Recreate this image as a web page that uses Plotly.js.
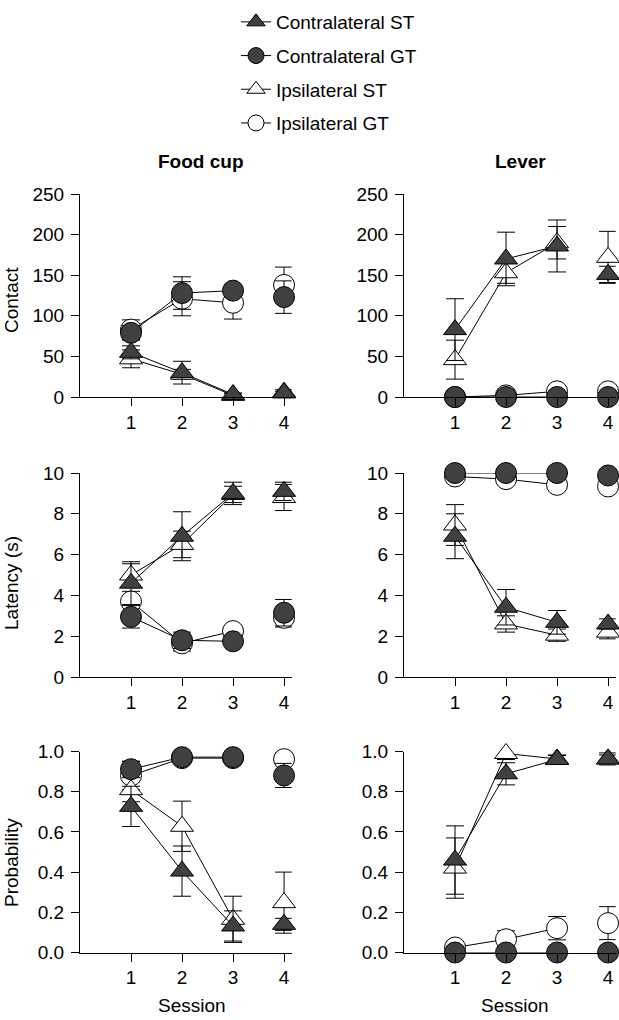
<!DOCTYPE html>
<html>
<head>
<meta charset="utf-8">
<script src="https://cdn.plot.ly/plotly-3.0.1.min.js"></script>
<style>html,body{margin:0;padding:0;background:#fff;}#chart{width:619px;height:1020px;}</style>
</head>
<body>
<div id="chart"></div>
<script>
// ---- Data ----
const sessions = [1, 2, 3, 4];
const seriesNames = ["Contralateral ST", "Contralateral GT", "Ipsilateral ST", "Ipsilateral GT"];
const columnTitles = ["Food cup", "Lever"];
const rowTitles = ["Contact", "Latency (s)", "Probability"];
const xTickLabels = ["1", "2", "3", "4"];
const contactTicks = [0, 50, 100, 150, 200, 250];
const latencyTicks = [0, 2, 4, 6, 8, 10];
const probabilityTicks = [0, 0.2, 0.4, 0.6, 0.8, 1.0];

// Food cup - Contact
const foodContactContraST = [55, 30, 3, 5];
const foodContactContraSTErr = [8, 14, 2, 2];
const foodContactContraGT = [79, 128, 131, 123];
const foodContactContraGTErr = [9, 20, 6, 20];
const foodContactIpsiST = [47, 28, 2, 6];
const foodContactIpsiSTErr = [11, 6, 2, 3];
const foodContactIpsiGT = [83, 121, 116, 138];
const foodContactIpsiGTErr = [12, 21, 20, 22];

// Lever - Contact
const leverContactContraST = [83, 170, 186, 151];
const leverContactContraSTErr = [38, 33, 32, 10];
const leverContactContraGT = [0, 0, 0, 0];
const leverContactContraGTErr = [0, 0, 0, 0];
const leverContactIpsiST = [46, 153, 190, 172];
const leverContactIpsiSTErr = [24, 13, 20, 32];
const leverContactIpsiGT = [0, 2, 7, 7];
const leverContactIpsiGTErr = [0, 1, 2, 2];

// Food cup - Latency
const foodLatencyContraST = [4.6, 6.9, 9.0, 9.1];
const foodLatencyContraSTErr = [1.05, 1.2, 0.55, 0.45];
const foodLatencyContraGT = [2.95, 1.8, 1.75, 3.15];
const foodLatencyContraGTErr = [0.55, 0.4, 0.2, 0.65];
const foodLatencyIpsiST = [5.0, 6.5, 8.95, 8.8];
const foodLatencyIpsiSTErr = [0.55, 0.65, 0.4, 0.64];
const foodLatencyIpsiGT = [3.7, 1.65, 2.25, 2.9];
const foodLatencyIpsiGTErr = [0.5, 0.38, 0.2, 0.45];

// Lever - Latency
const leverLatencyContraST = [6.9, 3.42, 2.68, 2.6];
const leverLatencyContraSTErr = [1.1, 0.87, 0.58, 0.25];
const leverLatencyContraGT = [10, 10, 10, 9.88];
const leverLatencyContraGTErr = [0, 0, 0, 0.05];
const leverLatencyIpsiST = [7.45, 2.6, 2.05, 2.2];
const leverLatencyIpsiSTErr = [1.0, 0.4, 0.3, 0.33];
const leverLatencyIpsiGT = [9.83, 9.7, 9.42, 9.34];
const leverLatencyIpsiGTErr = [0.1, 0.1, 0.15, 0.15];

// Food cup - Probability
const foodProbContraST = [0.727, 0.405, 0.132, 0.14];
const foodProbContraSTErr = [0.1, 0.125, 0.075, 0.03];
const foodProbContraGT = [0.912, 0.972, 0.972, 0.881];
const foodProbContraGTErr = [0.04, 0.01, 0.01, 0.06];
const foodProbIpsiST = [0.81, 0.628, 0.165, 0.248];
const foodProbIpsiSTErr = [0.06, 0.125, 0.115, 0.152];
const foodProbIpsiGT = [0.88, 0.967, 0.967, 0.962];
const foodProbIpsiGTErr = [0.07, 0.01, 0.01, 0.03];

// Lever - Probability
const leverProbContraST = [0.46, 0.889, 0.96, 0.963];
const leverProbContraSTErr = [0.17, 0.055, 0.02, 0.03];
const leverProbContraGT = [0, 0, 0, 0];
const leverProbContraGTErr = [0, 0, 0, 0];
const leverProbIpsiST = [0.42, 0.99, 0.963, 0.963];
const leverProbIpsiSTErr = [0.15, 0.03, 0.02, 0.02];
const leverProbIpsiGT = [0.025, 0.066, 0.121, 0.146];
const leverProbIpsiGTErr = [0.01, 0.042, 0.058, 0.082];

// ---- Styles ----
const FONT = "Arial, 'Liberation Sans', Helvetica, sans-serif";
const FS = 19;
const DARK = "#404040";
const W = 619, H = 1020;

const styles = {
  "Contralateral ST": {symbol: "triangle-up", fill: DARK, size: 20, rank: 1},
  "Contralateral GT": {symbol: "circle", fill: DARK, size: 21, rank: 2},
  "Ipsilateral ST": {symbol: "triangle-up", fill: "#ffffff", size: 20, rank: 3},
  "Ipsilateral GT": {symbol: "circle", fill: "#ffffff", size: 21, rank: 4}
};

const panels = [
  {ax: 1, data: {"Contralateral ST": [foodContactContraST, foodContactContraSTErr], "Contralateral GT": [foodContactContraGT, foodContactContraGTErr], "Ipsilateral ST": [foodContactIpsiST, foodContactIpsiSTErr], "Ipsilateral GT": [foodContactIpsiGT, foodContactIpsiGTErr]}},
  {ax: 2, data: {"Contralateral ST": [leverContactContraST, leverContactContraSTErr], "Contralateral GT": [leverContactContraGT, leverContactContraGTErr], "Ipsilateral ST": [leverContactIpsiST, leverContactIpsiSTErr], "Ipsilateral GT": [leverContactIpsiGT, leverContactIpsiGTErr]}},
  {ax: 3, data: {"Contralateral ST": [foodLatencyContraST, foodLatencyContraSTErr], "Contralateral GT": [foodLatencyContraGT, foodLatencyContraGTErr], "Ipsilateral ST": [foodLatencyIpsiST, foodLatencyIpsiSTErr], "Ipsilateral GT": [foodLatencyIpsiGT, foodLatencyIpsiGTErr]}},
  {ax: 4, data: {"Contralateral ST": [leverLatencyContraST, leverLatencyContraSTErr], "Contralateral GT": [leverLatencyContraGT, leverLatencyContraGTErr], "Ipsilateral ST": [leverLatencyIpsiST, leverLatencyIpsiSTErr], "Ipsilateral GT": [leverLatencyIpsiGT, leverLatencyIpsiGTErr]}},
  {ax: 5, data: {"Contralateral ST": [foodProbContraST, foodProbContraSTErr], "Contralateral GT": [foodProbContraGT, foodProbContraGTErr], "Ipsilateral ST": [foodProbIpsiST, foodProbIpsiSTErr], "Ipsilateral GT": [foodProbIpsiGT, foodProbIpsiGTErr]}},
  {ax: 6, data: {"Contralateral ST": [leverProbContraST, leverProbContraSTErr], "Contralateral GT": [leverProbContraGT, leverProbContraGTErr], "Ipsilateral ST": [leverProbIpsiST, leverProbIpsiSTErr], "Ipsilateral GT": [leverProbIpsiGT, leverProbIpsiGTErr]}}
];

// draw open (ipsilateral) first so filled markers sit on top
const drawOrder = ["Ipsilateral GT", "Ipsilateral ST", "Contralateral GT", "Contralateral ST"];

function gapped(arr) {
  // sessions 1-3 connected, session 4 stands alone
  return arr.slice(0, 3).concat([null], arr.slice(3));
}

const traces = [];
panels.forEach(function (p) {
  drawOrder.forEach(function (name) {
    const st = styles[name];
    const vals = p.data[name][0];
    const errs = p.data[name][1];
    traces.push({
      type: "scatter",
      mode: "lines+markers",
      name: name,
      legendgroup: name,
      legendrank: st.rank,
      showlegend: p.ax === 1,
      x: gapped(sessions),
      y: gapped(vals),
      xaxis: p.ax === 1 ? "x" : "x" + p.ax,
      yaxis: p.ax === 1 ? "y" : "y" + p.ax,
      line: {color: "#000000", width: 1},
      marker: {symbol: st.symbol, size: st.size, color: st.fill, line: {color: "#000000", width: 1}},
      error_y: {type: "data", array: gapped(errs), symmetric: true, visible: true, color: "#000000", thickness: 1, width: 9},
      cliponaxis: false,
      hoverinfo: "skip"
    });
  });
});

// ---- Layout ----
const xL = [80 / W, 291.7 / W];
const xR = [404 / W, 615.7 / W];
const rows = [
  [1 - 397 / H, 1 - 194 / H],
  [1 - 677 / H, 1 - 473 / H],
  [1 - 952.5 / H, 1 - 751.5 / H]
];
const yRanges = [[0, 250], [0, 10], [0, 1]];
const yTicks = [contactTicks, latencyTicks, probabilityTicks];
const yFormats = ["", "", ".1f"];

const layout = {
  width: W, height: H,
  margin: {l: 0, r: 0, t: 0, b: 0},
  paper_bgcolor: "#ffffff",
  plot_bgcolor: "rgba(0,0,0,0)",
  font: {family: FONT, size: FS, color: "#000000"},
  showlegend: true,
  legend: {
    x: 236 / W, xanchor: "left",
    y: 1 - 3 / H, yanchor: "top",
    bgcolor: "rgba(0,0,0,0)",
    font: {family: FONT, size: FS, color: "#000000"},
    tracegroupgap: 6,
    itemsizing: "trace",
    traceorder: "grouped"
  },
  annotations: [],
  hovermode: false
};

for (let i = 1; i <= 6; i++) {
  const row = Math.floor((i - 1) / 2);
  const left = (i % 2) === 1;
  const xk = i === 1 ? "xaxis" : "xaxis" + i;
  const yk = i === 1 ? "yaxis" : "yaxis" + i;
  layout[xk] = {
    domain: left ? xL : xR,
    anchor: i === 1 ? "y" : "y" + i,
    range: [0, 4.15],
    tickvals: sessions,
    ticktext: xTickLabels,
    ticks: "outside", ticklen: 8, tickwidth: 1, tickcolor: "#000000",
    showline: true, linecolor: "#000000", linewidth: 1,
    showgrid: false, zeroline: false, fixedrange: true,
    tickfont: {family: FONT, size: FS, color: "#000000"}
  };
  layout[yk] = {
    domain: rows[row],
    anchor: i === 1 ? "x" : "x" + i,
    range: yRanges[row],
    tickvals: yTicks[row],
    tickformat: yFormats[row],
    ticks: "outside", ticklen: 8, tickwidth: 1, tickcolor: "#000000",
    showline: true, linecolor: "#000000", linewidth: 1,
    showgrid: false, zeroline: false, fixedrange: true,
    ticklabelstandoff: 3,
    tickfont: {family: FONT, size: FS, color: "#000000"}
  };
}

function ann(text, px, py, opts) {
  return Object.assign({
    text: text, xref: "paper", yref: "paper",
    x: px / W, y: 1 - py / H, xanchor: "center", yanchor: "middle",
    showarrow: false, font: {family: FONT, size: FS, color: "#000000"}
  }, opts || {});
}

layout.annotations.push(ann("<b>" + columnTitles[0] + "</b>", 200, 161));
layout.annotations.push(ann("<b>" + columnTitles[1] + "</b>", 520, 161));
layout.annotations.push(ann(rowTitles[0], 11, 300, {textangle: -90}));
layout.annotations.push(ann(rowTitles[1], 11, 583, {textangle: -90}));
layout.annotations.push(ann(rowTitles[2], 11, 863, {textangle: -90}));
layout.annotations.push(ann("Session", 192, 1005));
layout.annotations.push(ann("Session", 515, 1005));

Plotly.newPlot("chart", traces, layout, {displayModeBar: false, staticPlot: true});
</script>
</body>
</html>
